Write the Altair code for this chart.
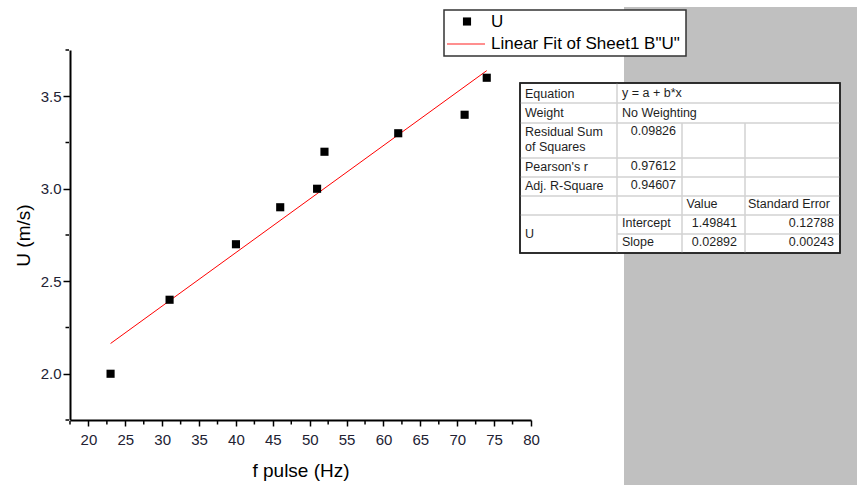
import altair as alt
import pandas as pd

# ---------------- data ----------------
f_pulse = [23, 31, 40, 46, 51, 52, 62, 71, 74]
u_vals = [2.0, 2.4, 2.7, 2.9, 3.0, 3.2, 3.3, 3.4, 3.6]

fit_intercept = 1.49841
fit_slope = 0.02892
fit_x_range = [23, 74]

x_major = [20, 25, 30, 35, 40, 45, 50, 55, 60, 65, 70, 75, 80]
x_minor = [17.5, 22.5, 27.5, 32.5, 37.5, 42.5, 47.5, 52.5, 57.5, 62.5, 67.5, 72.5, 77.5]
y_major = [2.0, 2.5, 3.0, 3.5]
y_minor = [1.75, 2.25, 2.75, 3.25, 3.75]

legend_labels = ["U", 'Linear Fit of Sheet1 B"U"']

table_left_col = ["Equation", "Weight", "Residual Sum", "of Squares",
                  "Pearson's r", "Adj. R-Square", "U"]
table_mid_text = ["y = a + b*x", "No Weighting", "Intercept", "Slope", "Value", "Standard Error"]
table_numbers = ["0.09826", "0.97612", "0.94607", "1.49841", "0.02892", "0.12788", "0.00243"]

# ---------------- layout / style ----------------
W, H = 461, 370
FONT = "Liberation Sans"
TXT = "#222233"
one = pd.DataFrame({"k": [0]})

xs = alt.Scale(domain=[17.5, 80], nice=False, zero=False)
ys = alt.Scale(domain=[1.75, 3.75], nice=False, zero=False)

x_axis = alt.Axis(values=x_major, tickSize=6, tickWidth=1.5, tickColor="black",
                  domainColor="black", domainWidth=2, grid=False,
                  labelFont=FONT, labelFontSize=15, labelColor=TXT, labelPadding=6,
                  labelOverlap=False, labelFlush=False,
                  title="f pulse (Hz)", titleFont=FONT, titleFontSize=19,
                  titleFontWeight="normal", titleColor="black", titlePadding=14)
y_axis = alt.Axis(values=y_major, format=".1f", tickSize=7, tickWidth=1.5,
                  tickColor="black", domainColor="black", domainWidth=2, grid=False,
                  labelFont=FONT, labelFontSize=15, labelColor=TXT, labelPadding=2,
                  labelOverlap=False,
                  title="U (m/s)", titleFont=FONT, titleFontSize=19,
                  titleFontWeight="normal", titleColor="black", titlePadding=7)

X = lambda: alt.X("f:Q", scale=xs, axis=x_axis)
Y = lambda: alt.Y("u:Q", scale=ys, axis=y_axis)

layers = []

# gray panel on the right
layers.append(alt.Chart(one).mark_rect(color="#c0c0c0").encode(
    x=alt.value(554), x2=alt.value(790), y=alt.value(-43), y2=alt.value(440)))

# scatter + fit
pts = pd.DataFrame({"f": f_pulse, "u": u_vals})
fit = pd.DataFrame({"f": fit_x_range,
                    "u": [fit_intercept + fit_slope * v for v in fit_x_range]})

layers.append(alt.Chart(fit).mark_line(color="#ff0000", strokeWidth=1).encode(x=X(), y=Y()))
layers.append(alt.Chart(pts).mark_square(color="black", size=66, opacity=1).encode(x=X(), y=Y()))

# minor ticks
layers.append(alt.Chart(pd.DataFrame({"f": x_minor})).mark_rule(color="black", strokeWidth=1.5).encode(
    x=X(), y=alt.value(H + 1), y2=alt.value(H + 4.5)))
layers.append(alt.Chart(pd.DataFrame({"u": y_minor})).mark_rule(color="black", strokeWidth=1.5).encode(
    y=Y(), x=alt.value(-4.5), x2=alt.value(-1)))

# legend
layers.append(alt.Chart(one).mark_rect(fill="white", stroke="#333333", strokeWidth=1.5).encode(
    x=alt.value(374), x2=alt.value(616), y=alt.value(-40), y2=alt.value(6)))
layers.append(alt.Chart(one).mark_square(color="black", size=66, opacity=1).encode(
    x=alt.value(397), y=alt.value(-28.5)))
layers.append(alt.Chart(one).mark_rule(stroke="#ff2020", color="#ff2020", strokeWidth=1.2).encode(
    x=alt.value(377), x2=alt.value(415), y=alt.value(-6)))
for lab, yy in zip(legend_labels, [-28.5, -6.5]):
    layers.append(alt.Chart(pd.DataFrame({"t": [lab]})).mark_text(
        align="left", baseline="middle", font=FONT, fontSize=17, color="black").encode(
        x=alt.value(421), y=alt.value(yy), text="t:N"))

# table
T_L, T_R, T_T, T_B = 450, 770, 33, 203
layers.append(alt.Chart(one).mark_rect(fill="white", stroke="#222222", strokeWidth=1.5).encode(
    x=alt.value(T_L), x2=alt.value(T_R), y=alt.value(T_T), y2=alt.value(T_B)))
grid_lines = [
    (T_L, T_R, 53, 53), (T_L, T_R, 73, 73), (T_L, T_R, 108, 108), (T_L, T_R, 127, 127),
    (T_L, T_R, 146, 146), (T_L, T_R, 165, 165), (547, T_R, 184, 184),
    (547, 547, T_T, T_B), (612, 612, 73, T_B), (675, 675, 73, T_B),
]
for x1, x2, y1, y2 in grid_lines:
    layers.append(alt.Chart(one).mark_rule(color="#d2d2d2", strokeWidth=1.5).encode(
        x=alt.value(x1), x2=alt.value(x2), y=alt.value(y1), y2=alt.value(y2)))
# redraw outer border on top
layers.append(alt.Chart(one).mark_rect(fill=None, stroke="#222222", strokeWidth=1.5).encode(
    x=alt.value(T_L), x2=alt.value(T_R), y=alt.value(T_T), y2=alt.value(T_B)))

left_pos = [(455, 43.5), (455, 63), (455, 82), (455, 97), (455, 116.5), (455, 135.7), (455, 184)]
mid_pos = [(552, 43), (552, 62.5), (552, 173), (552, 191.5), (616.5, 154), (678, 154)]
num_pos = [(606, 80.5), (606, 115.7), (606, 134.7), (667, 173), (667, 191.5), (764, 173), (764, 191.5)]

def cell(text, x, y, align):
    return alt.Chart(pd.DataFrame({"t": [text]})).mark_text(
        align=align, baseline="middle", font=FONT, fontSize=12.5, color="#1e1e1e").encode(
        x=alt.value(x), y=alt.value(y), text="t:N")

for t, (x, y) in zip(table_left_col, left_pos):
    layers.append(cell(t, x, y, "left"))
for t, (x, y) in zip(table_mid_text, mid_pos):
    layers.append(cell(t, x, y, "left"))
for t, (x, y) in zip(table_numbers, num_pos):
    layers.append(cell(t, x, y, "right"))

chart = alt.layer(*layers).properties(
    width=W, height=H,
    autosize=alt.AutoSizeParams(type="none"),
    padding={"left": 70, "top": 50, "right": 326, "bottom": 65},
    background="white",
).configure_view(stroke=None)

chart.save("out.html", embed_options={"renderer": "svg", "actions": False})
